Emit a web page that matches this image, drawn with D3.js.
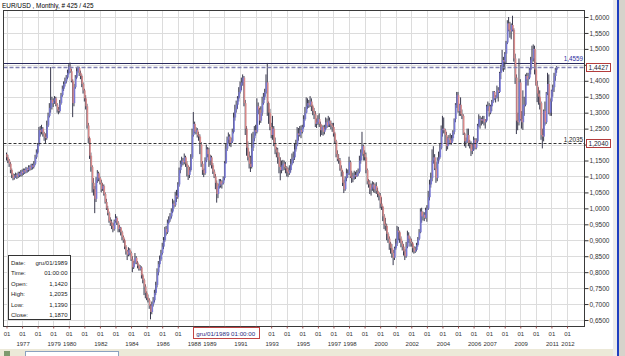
<!DOCTYPE html>
<html>
<head>
<meta charset="utf-8">
<script src="https://cdn.jsdelivr.net/npm/d3@7"></script>
<style>
  body { margin: 0; background: #fff; }
  svg { display: block; }
  text { font-family: "Liberation Sans", Arial, sans-serif; fill: #222; }
</style>
</head>
<body>
<div id="chart"></div>
<script>
// monthly bars, one row per year (1976 ... 2011)
let opens = [
  1.170,1.160,1.150,1.140,1.120,1.105,1.095,1.100,1.105,1.100,1.110,1.105,
  1.115,1.110,1.120,1.115,1.125,1.120,1.130,1.125,1.135,1.130,1.140,1.160,
  1.175,1.200,1.245,1.240,1.250,1.235,1.225,1.220,1.260,1.290,1.315,1.340,
  1.330,1.335,1.345,1.325,1.310,1.305,1.330,1.355,1.375,1.390,1.400,1.410,
  1.425,1.445,1.430,1.400,1.330,1.380,1.410,1.430,1.440,1.425,1.415,1.390,
  1.370,1.345,1.320,1.260,1.220,1.165,1.130,1.080,1.060,1.030,1.090,1.110,
  1.095,1.080,1.060,1.070,1.045,1.020,1.000,0.985,0.960,0.955,0.945,0.935,
  0.960,0.970,0.955,0.935,0.940,0.925,0.910,0.900,0.880,0.865,0.855,0.870,
  0.860,0.840,0.815,0.830,0.845,0.830,0.820,0.810,0.815,0.790,0.775,0.755,
  0.735,0.720,0.712,0.695,0.675,0.700,0.712,0.735,0.760,0.800,0.825,0.840,
  0.860,0.880,0.900,0.935,0.925,0.955,0.965,0.975,0.990,1.015,1.010,1.040,
  1.035,1.075,1.120,1.140,1.150,1.145,1.160,1.140,1.130,1.105,1.120,1.160,
  1.230,1.265,1.240,1.245,1.230,1.225,1.200,1.140,1.120,1.110,1.150,1.185,
  1.170,1.150,1.160,1.135,1.115,1.100,1.080,1.045,1.070,1.085,1.075,1.080,
  1.095,1.142,1.187,1.215,1.225,1.205,1.210,1.240,1.285,1.310,1.325,1.345,
  1.365,1.385,1.395,1.410,1.330,1.250,1.190,1.160,1.140,1.130,1.190,1.220,
  1.245,1.240,1.320,1.310,1.275,1.300,1.330,1.350,1.365,1.395,1.330,1.300,
  1.255,1.230,1.250,1.205,1.185,1.175,1.160,1.130,1.120,1.135,1.140,1.130,
  1.125,1.115,1.110,1.120,1.140,1.155,1.160,1.185,1.200,1.235,1.230,1.245,
  1.240,1.255,1.280,1.300,1.320,1.330,1.325,1.335,1.320,1.305,1.295,1.265,
  1.270,1.280,1.265,1.245,1.255,1.240,1.250,1.270,1.260,1.275,1.265,1.260,
  1.255,1.235,1.210,1.170,1.155,1.150,1.125,1.115,1.080,1.060,1.095,1.110,
  1.110,1.145,1.100,1.095,1.100,1.105,1.100,1.110,1.115,1.150,1.175,1.195,
  1.170,1.160,1.120,1.085,1.075,1.060,1.065,1.075,1.060,1.070,1.055,1.045,
  1.040,1.015,1.005,0.975,0.950,0.945,0.920,0.905,0.890,0.875,0.860,0.845,
  0.875,0.890,0.930,0.925,0.905,0.890,0.880,0.865,0.850,0.880,0.915,0.905,
  0.895,0.890,0.875,0.865,0.870,0.885,0.905,0.925,0.990,0.975,0.980,0.970,
  0.995,1.000,1.035,1.075,1.095,1.150,1.160,1.125,1.095,1.150,1.160,1.190,
  1.245,1.250,1.245,1.230,1.195,1.220,1.215,1.205,1.220,1.240,1.280,1.325,
  1.355,1.305,1.325,1.295,1.290,1.235,1.210,1.210,1.230,1.205,1.200,1.180,
  1.185,1.215,1.190,1.210,1.260,1.280,1.280,1.275,1.280,1.270,1.275,1.320,
  1.320,1.300,1.320,1.335,1.365,1.345,1.350,1.370,1.365,1.425,1.445,1.465,
  1.460,1.485,1.520,1.580,1.560,1.555,1.575,1.560,1.470,1.410,1.275,1.270,
  1.395,1.280,1.270,1.325,1.325,1.415,1.405,1.410,1.435,1.465,1.470,1.500,
  1.435,1.385,1.360,1.350,1.330,1.230,1.225,1.305,1.270,1.360,1.390,1.300,
  1.335,1.370,1.380,1.415,1.435
]

let highs = [
  1.175,1.168,1.155,1.145,1.125,1.110,1.108,1.112,1.110,1.115,1.115,1.120,
  1.122,1.125,1.125,1.130,1.128,1.135,1.135,1.140,1.140,1.148,1.168,1.185,
  1.205,1.255,1.258,1.262,1.255,1.240,1.235,1.275,1.300,1.330,1.443,1.350,
  1.345,1.352,1.350,1.330,1.318,1.340,1.362,1.385,1.398,1.410,1.418,1.435,
  1.452,1.457,1.438,1.405,1.390,1.418,1.440,1.445,1.444,1.432,1.420,1.395,
  1.375,1.355,1.328,1.268,1.225,1.175,1.135,1.095,1.070,1.098,1.120,1.115,
  1.100,1.090,1.080,1.075,1.050,1.030,1.008,0.990,0.972,0.965,0.955,0.965,
  0.982,0.975,0.960,0.948,0.942,0.930,0.915,0.905,0.885,0.870,0.878,0.875,
  0.865,0.850,0.835,0.860,0.850,0.835,0.825,0.822,0.818,0.795,0.780,0.762,
  0.740,0.730,0.718,0.700,0.708,0.722,0.745,0.770,0.812,0.835,0.852,0.870,
  0.892,0.910,0.942,0.945,0.965,0.975,0.985,1.000,1.030,1.025,1.052,1.058,
  1.082,1.128,1.150,1.162,1.158,1.172,1.165,1.148,1.135,1.130,1.170,1.250,
  1.302,1.272,1.255,1.252,1.240,1.232,1.208,1.148,1.125,1.160,1.200,1.192,
  1.190,1.168,1.165,1.142,1.122,1.108,1.088,1.078,1.092,1.092,1.088,1.100,
  1.148,1.2035,1.225,1.238,1.232,1.222,1.250,1.300,1.325,1.338,1.352,1.380,
  1.398,1.410,1.420,1.415,1.340,1.258,1.210,1.178,1.165,1.235,1.240,1.258,
  1.262,1.345,1.332,1.315,1.320,1.350,1.362,1.375,1.420,1.456,1.335,1.312,
  1.268,1.290,1.258,1.222,1.192,1.190,1.175,1.160,1.150,1.152,1.150,1.145,
  1.132,1.128,1.135,1.155,1.172,1.178,1.205,1.215,1.255,1.252,1.258,1.260,
  1.262,1.292,1.318,1.348,1.345,1.340,1.352,1.345,1.325,1.315,1.305,1.282,
  1.292,1.298,1.272,1.262,1.260,1.262,1.285,1.282,1.290,1.285,1.275,1.268,
  1.268,1.240,1.215,1.182,1.170,1.158,1.135,1.120,1.090,1.100,1.125,1.122,
  1.162,1.150,1.118,1.112,1.118,1.115,1.120,1.125,1.165,1.185,1.240,1.200,
  1.182,1.175,1.125,1.092,1.088,1.078,1.085,1.082,1.078,1.082,1.065,1.052,
  1.048,1.035,1.008,0.982,0.970,0.952,0.925,0.912,0.895,0.888,0.870,0.880,
  0.905,0.945,0.942,0.930,0.912,0.898,0.888,0.872,0.895,0.930,0.925,0.912,
  0.905,0.895,0.882,0.880,0.892,0.910,0.935,1.000,1.002,0.990,0.988,1.002,
  1.010,1.055,1.090,1.112,1.185,1.195,1.170,1.145,1.160,1.178,1.205,1.260,
  1.290,1.285,1.250,1.240,1.225,1.230,1.235,1.230,1.245,1.282,1.330,1.365,
  1.365,1.328,1.348,1.310,1.295,1.238,1.222,1.250,1.250,1.215,1.210,1.205,
  1.225,1.220,1.220,1.265,1.295,1.290,1.285,1.290,1.290,1.280,1.325,1.335,
  1.330,1.325,1.340,1.368,1.368,1.355,1.385,1.380,1.428,1.450,1.497,1.475,
  1.490,1.525,1.590,1.600,1.585,1.580,1.604,1.565,1.485,1.420,1.300,1.470,
  1.405,1.305,1.370,1.350,1.420,1.425,1.425,1.440,1.475,1.510,1.514,1.510,
  1.458,1.400,1.380,1.370,1.335,1.250,1.310,1.335,1.365,1.425,1.420,1.345,
  1.372,1.388,1.425,1.440,1.446
]

let lows = [
  1.150,1.142,1.130,1.110,1.095,1.088,1.090,1.095,1.092,1.095,1.098,1.100,
  1.100,1.105,1.108,1.110,1.112,1.115,1.118,1.120,1.122,1.125,1.135,1.155,
  1.170,1.195,1.225,1.232,1.225,1.212,1.205,1.215,1.255,1.285,1.300,1.310,
  1.318,1.328,1.320,1.300,1.295,1.300,1.325,1.350,1.368,1.382,1.392,1.405,
  1.420,1.425,1.395,1.286,1.320,1.375,1.405,1.425,1.415,1.405,1.380,1.360,
  1.335,1.310,1.250,1.205,1.155,1.115,1.050,1.040,0.985,1.020,1.080,1.085,
  1.075,1.050,1.055,1.040,1.015,0.995,0.978,0.955,0.945,0.935,0.925,0.930,
  0.955,0.948,0.925,0.925,0.915,0.900,0.892,0.872,0.855,0.838,0.850,0.852,
  0.835,0.800,0.810,0.825,0.825,0.812,0.805,0.805,0.780,0.765,0.728,0.718,
  0.712,0.705,0.685,0.652,0.668,0.692,0.705,0.728,0.752,0.790,0.815,0.835,
  0.855,0.872,0.895,0.915,0.920,0.950,0.958,0.968,0.985,1.000,1.005,1.020,
  1.030,1.068,1.110,1.130,1.135,1.138,1.130,1.100,1.089,1.095,1.115,1.155,
  1.225,1.235,1.232,1.222,1.212,1.170,1.130,1.105,1.098,1.105,1.145,1.160,
  1.130,1.135,1.125,1.108,1.095,1.060,1.018,1.032,1.062,1.065,1.062,1.075,
  1.088,1.139,1.180,1.205,1.195,1.192,1.205,1.235,1.275,1.300,1.312,1.335,
  1.360,1.370,1.385,1.320,1.230,1.165,1.150,1.125,1.114,1.125,1.180,1.210,
  1.228,1.235,1.295,1.262,1.268,1.290,1.325,1.340,1.360,1.290,1.265,1.245,
  1.220,1.215,1.195,1.170,1.160,1.140,1.110,1.088,1.110,1.118,1.120,1.110,
  1.100,1.098,1.105,1.112,1.135,1.142,1.152,1.178,1.195,1.212,1.225,1.220,
  1.235,1.250,1.275,1.298,1.312,1.315,1.318,1.305,1.292,1.280,1.255,1.252,
  1.262,1.255,1.225,1.230,1.228,1.232,1.245,1.252,1.255,1.255,1.248,1.240,
  1.225,1.202,1.160,1.148,1.140,1.118,1.100,1.070,1.048,1.055,1.085,1.095,
  1.105,1.095,1.080,1.082,1.090,1.092,1.098,1.102,1.110,1.140,1.165,1.150,
  1.150,1.110,1.075,1.065,1.045,1.040,1.055,1.050,1.048,1.045,1.035,1.025,
  1.000,0.995,0.960,0.935,0.930,0.900,0.892,0.870,0.858,0.845,0.822,0.838,
  0.870,0.882,0.900,0.892,0.878,0.868,0.852,0.838,0.845,0.875,0.892,0.880,
  0.880,0.862,0.858,0.860,0.865,0.880,0.900,0.922,0.955,0.962,0.960,0.968,
  0.958,0.995,1.025,1.065,1.085,1.140,1.120,1.080,1.085,1.140,1.155,1.185,
  1.225,1.235,1.205,1.180,1.185,1.200,1.200,1.200,1.210,1.232,1.270,1.315,
  1.300,1.290,1.290,1.280,1.230,1.195,1.190,1.205,1.195,1.188,1.164,1.170,
  1.180,1.185,1.185,1.205,1.255,1.250,1.260,1.265,1.260,1.250,1.270,1.305,
  1.288,1.295,1.305,1.330,1.340,1.332,1.345,1.335,1.362,1.405,1.432,1.428,
  1.435,1.455,1.515,1.555,1.535,1.530,1.555,1.460,1.390,1.233,1.245,1.260,
  1.275,1.250,1.246,1.290,1.320,1.385,1.385,1.405,1.420,1.455,1.460,1.420,
  1.385,1.333,1.325,1.310,1.215,1.188,1.210,1.260,1.265,1.355,1.295,1.290,
  1.290,1.350,1.365,1.400,1.425
]

let closes = [
  1.160,1.150,1.140,1.120,1.105,1.095,1.100,1.105,1.100,1.110,1.105,1.115,
  1.110,1.120,1.115,1.125,1.120,1.130,1.125,1.135,1.130,1.140,1.160,1.175,
  1.200,1.245,1.240,1.250,1.235,1.225,1.220,1.260,1.290,1.315,1.340,1.330,
  1.335,1.345,1.325,1.310,1.305,1.330,1.355,1.375,1.390,1.400,1.410,1.425,
  1.445,1.430,1.400,1.330,1.380,1.410,1.430,1.440,1.425,1.415,1.390,1.370,
  1.345,1.320,1.260,1.220,1.165,1.130,1.080,1.060,1.030,1.090,1.110,1.095,
  1.080,1.060,1.070,1.045,1.020,1.000,0.985,0.960,0.955,0.945,0.935,0.960,
  0.970,0.955,0.935,0.940,0.925,0.910,0.900,0.880,0.865,0.855,0.870,0.860,
  0.840,0.815,0.830,0.845,0.830,0.820,0.810,0.815,0.790,0.775,0.755,0.735,
  0.720,0.712,0.695,0.675,0.700,0.712,0.735,0.760,0.800,0.825,0.840,0.860,
  0.880,0.900,0.935,0.925,0.955,0.965,0.975,0.990,1.015,1.010,1.040,1.035,
  1.075,1.120,1.140,1.150,1.145,1.160,1.140,1.130,1.105,1.120,1.160,1.230,
  1.265,1.240,1.245,1.230,1.225,1.200,1.140,1.120,1.110,1.150,1.185,1.170,
  1.150,1.160,1.135,1.115,1.100,1.080,1.045,1.070,1.085,1.075,1.080,1.095,
  1.142,1.187,1.215,1.225,1.205,1.210,1.240,1.285,1.310,1.325,1.345,1.365,
  1.385,1.395,1.410,1.330,1.250,1.190,1.160,1.140,1.130,1.190,1.220,1.245,
  1.240,1.320,1.310,1.275,1.300,1.330,1.350,1.365,1.395,1.330,1.300,1.255,
  1.230,1.250,1.205,1.185,1.175,1.160,1.130,1.120,1.135,1.140,1.130,1.125,
  1.115,1.110,1.120,1.140,1.155,1.160,1.185,1.200,1.235,1.230,1.245,1.240,
  1.255,1.280,1.300,1.320,1.330,1.325,1.335,1.320,1.305,1.295,1.265,1.270,
  1.280,1.265,1.245,1.255,1.240,1.250,1.270,1.260,1.275,1.265,1.260,1.255,
  1.235,1.210,1.170,1.155,1.150,1.125,1.115,1.080,1.060,1.095,1.110,1.110,
  1.145,1.100,1.095,1.100,1.105,1.100,1.110,1.115,1.150,1.175,1.195,1.170,
  1.160,1.120,1.085,1.075,1.060,1.065,1.075,1.060,1.070,1.055,1.045,1.040,
  1.015,1.005,0.975,0.950,0.945,0.920,0.905,0.890,0.875,0.860,0.845,0.875,
  0.890,0.930,0.925,0.905,0.890,0.880,0.865,0.850,0.880,0.915,0.905,0.895,
  0.890,0.875,0.865,0.870,0.885,0.905,0.925,0.990,0.975,0.980,0.970,0.995,
  1.000,1.035,1.075,1.095,1.150,1.160,1.125,1.095,1.150,1.160,1.190,1.245,
  1.250,1.245,1.230,1.195,1.220,1.215,1.205,1.220,1.240,1.280,1.325,1.355,
  1.305,1.325,1.295,1.290,1.235,1.210,1.210,1.230,1.205,1.200,1.180,1.185,
  1.215,1.190,1.210,1.260,1.280,1.280,1.275,1.280,1.270,1.275,1.320,1.320,
  1.300,1.320,1.335,1.365,1.345,1.350,1.370,1.365,1.425,1.445,1.465,1.460,
  1.485,1.520,1.580,1.560,1.555,1.575,1.560,1.470,1.410,1.275,1.270,1.395,
  1.280,1.270,1.325,1.325,1.415,1.405,1.410,1.435,1.465,1.470,1.500,1.435,
  1.385,1.360,1.350,1.330,1.230,1.225,1.305,1.270,1.360,1.390,1.300,1.335,
  1.370,1.380,1.415,1.435,1.4427
]

let priceTicks = [0.65, 0.70, 0.75, 0.80, 0.85, 0.90, 0.95, 1.00, 1.05, 1.10,
  1.15, 1.20, 1.25, 1.30, 1.35, 1.40, 1.45, 1.50, 1.55, 1.60]

// which yearly "01" tick carries a year under it
let yearTickIndex = [1, 3, 4, 6, 8, 10, 12, 13, 15, 17, 19, 21, 22, 24, 26, 28, 30, 31, 33, 35, 36]
let yearLabels = ["1977", "1979", "1980", "1982", "1984", "1986", "1988", "1989", "1991", "1993",
  "1995", "1997", "1998", "2000", "2002", "2004", "2006", "2007", "2009", "2011", "2012"]

let infoLabels = ["Date:", "Time:", "Open:", "High:", "Low:", "Close:"]
let infoValues = ["gru/01/1989", "01:00:00", "1,1420", "1,2035", "1,1390", "1,1870"]

let userLevel = 1.4559
let lastPrice = 1.4427
let crossPrice = 1.2035
let crossAxisPrice = 1.2040
let crossBar = 169
let crossDate = "gru/01/1989 01:00:00"

let fmt = d => d.toFixed(4).replace(".", ",")

let svg = d3.select("#chart")
  .append("svg")
  .attr("width", 625)
  .attr("height", 356)

let frame = {left: 3.5, top: 10.5, right: 584.5, bottom: 326.5}

//X axis: one bar per month
let x = d3.scaleLinear()
  .domain([0, closes.length - 1])
  .range([6.5, 556.6])

//Y axis
let y = d3.scaleLinear()
  .domain([0.65, 1.60])
  .range([320, 17])

let tickBars = d3.range(0, 433, 12)
let cx = x(crossBar)
let priceBoxes = [lastPrice, crossAxisPrice]

// window bits round the chart
svg.append("rect").attr("x", 0).attr("y", 349).attr("width", 617).attr("height", 7).attr("fill", "#ece9d8")
svg.append("rect").attr("x", 25.5).attr("y", 351.5).attr("width", 93).attr("height", 6).attr("fill", "#fff").attr("stroke", "#8aa2c0")
svg.append("rect").attr("x", 4).attr("y", 351).attr("width", 6).attr("height", 5).attr("fill", "#7d9a6e")
svg.append("rect").attr("x", 613).attr("y", 0).attr("width", 4).attr("height", 356).attr("fill", "#ececec")
svg.append("rect").attr("x", 617).attr("y", 0).attr("width", 2).attr("height", 356).attr("fill", "#1f3fc0")
svg.append("rect").attr("x", 619).attr("y", 0).attr("width", 6).attr("height", 356).attr("fill", "#d6d3cb")

svg.append("text")
  .attr("x", 2)
  .attr("y", 7.5)
  .style("font-size", "6.4px")
  .style("fill", "#000")
  .text("EUR/USD , Monthly, # 425 / 425")

// grid
let grid = svg.append("g").attr("shape-rendering", "crispEdges")

grid.selectAll(".vgrid")
  .data(tickBars)
  .enter()
  .append("line")
  .attr("x1", d => Math.round(x(d)) + 0.5)
  .attr("x2", d => Math.round(x(d)) + 0.5)
  .attr("y1", frame.top)
  .attr("y2", frame.bottom)
  .attr("stroke", "#dcdcdc")

grid.selectAll(".hgrid")
  .data(priceTicks)
  .enter()
  .append("line")
  .attr("x1", frame.left)
  .attr("x2", frame.right)
  .attr("y1", d => Math.round(y(d)) + 0.5)
  .attr("y2", d => Math.round(y(d)) + 0.5)
  .attr("stroke", "#dcdcdc")

// horizontal user line (solid) drawn under the bars
svg.append("line")
  .attr("x1", frame.left)
  .attr("x2", frame.right)
  .attr("y1", Math.round(y(userLevel)) + 0.5)
  .attr("y2", Math.round(y(userLevel)) + 0.5)
  .attr("stroke", "#2b2b5e")
  .attr("shape-rendering", "crispEdges")

// bars
let bars = svg.append("g")

bars.selectAll(".wick")
  .data(closes)
  .enter()
  .append("line")
  .attr("x1", (d, i) => x(i))
  .attr("x2", (d, i) => x(i))
  .attr("y1", (d, i) => y(highs[i]))
  .attr("y2", (d, i) => y(lows[i]))
  .attr("stroke", "#3a3a4e")
  .attr("stroke-width", 1)

bars.selectAll(".body")
  .data(closes)
  .enter()
  .append("rect")
  .attr("x", (d, i) => x(i) - 0.2)
  .attr("width", 1.5)
  .attr("y", (d, i) => y(Math.max(opens[i], d)))
  .attr("height", (d, i) => Math.max(1, Math.abs(y(opens[i]) - y(d))))
  .attr("fill", (d, i) => d >= opens[i] ? "#7a7ad6" : "#d88a8a")

// current price and cross hair lines
svg.append("line")
  .attr("x1", frame.left)
  .attr("x2", frame.right)
  .attr("y1", Math.round(y(lastPrice)) + 0.5)
  .attr("y2", Math.round(y(lastPrice)) + 0.5)
  .attr("stroke", "#8282b4")
  .attr("stroke-width", 1.3)
  .attr("stroke-dasharray", "4,2")

svg.append("line")
  .attr("x1", frame.left)
  .attr("x2", frame.right)
  .attr("y1", Math.round(y(crossPrice)) + 0.5)
  .attr("y2", Math.round(y(crossPrice)) + 0.5)
  .attr("stroke", "#333")
  .attr("stroke-dasharray", "3,2")

svg.append("text")
  .attr("x", 583)
  .attr("y", y(userLevel) - 1.5)
  .attr("text-anchor", "end")
  .style("font-size", "6.3px")
  .style("fill", "#2c2ca0")
  .text(fmt(userLevel))

svg.append("text")
  .attr("x", 583)
  .attr("y", y(crossPrice) - 1.5)
  .attr("text-anchor", "end")
  .style("font-size", "6.3px")
  .style("fill", "#222")
  .text(fmt(crossPrice))

// frame
svg.append("rect")
  .attr("x", frame.left)
  .attr("y", frame.top)
  .attr("width", frame.right - frame.left)
  .attr("height", frame.bottom - frame.top)
  .attr("fill", "none")
  .attr("stroke", "#3a3a3a")
  .attr("shape-rendering", "crispEdges")

// right price axis; labels sitting under a price box stay hidden
let y_axis = svg.append("g")
  .attr("transform", "translate(" + frame.right + ",0)")
  .call(d3.axisRight(y).tickValues(priceTicks).tickSize(4).tickPadding(1).tickFormat(fmt))

y_axis.select(".domain").remove()
y_axis.selectAll("line").attr("stroke", "#333")
y_axis.selectAll("text")
  .style("font-size", "6.5px")
  .style("fill", "#333")
  .attr("font-family", null)
y_axis.selectAll(".tick")
  .filter(d => priceBoxes.some(p => Math.abs(y(p) - y(d)) < 8))
  .select("text")
  .remove()

// bottom time axis; labels under the date box are hidden as in the app
let x_axis = svg.append("g")
  .attr("transform", "translate(0," + frame.bottom + ")")
  .call(d3.axisBottom(x).tickValues(tickBars).tickSize(2).tickPadding(3).tickFormat(() => "01"))

x_axis.select(".domain").remove()
x_axis.selectAll("line").attr("stroke", "#a05050")
x_axis.selectAll("text")
  .style("font-size", "6px")
  .style("fill", "#333")
  .attr("font-family", null)
x_axis.selectAll(".tick")
  .filter(d => Math.abs(x(d) - cx) < 36)
  .select("text")
  .remove()

svg.selectAll(".year_label")
  .data(yearTickIndex)
  .enter()
  .append("text")
  .attr("class", "year_label")
  .attr("x", d => x(d * 12) + 1)
  .attr("y", 345.5)
  .attr("text-anchor", "middle")
  .style("font-size", "6px")
  .style("fill", "#333")
  .text((d, i) => yearLabels[i])

// price boxes on the axis
let boxes = svg.selectAll(".price_box")
  .data(priceBoxes)
  .enter()
  .append("g")
  .attr("transform", d => "translate(586.5," + (Math.round(y(d)) - 3.5) + ")")

boxes.append("rect")
  .attr("width", 24)
  .attr("height", 8)
  .attr("fill", "#fff")
  .attr("stroke", "#b33c3c")

boxes.append("text")
  .attr("x", 12)
  .attr("y", 6.3)
  .attr("text-anchor", "middle")
  .style("font-size", "6.5px")
  .style("fill", "#223")
  .text(d => fmt(d))

// cross hair date label
svg.append("rect")
  .attr("x", Math.round(cx - 33) + 0.5)
  .attr("y", 327.5)
  .attr("width", 66)
  .attr("height", 11)
  .attr("fill", "#fff")
  .attr("stroke", "#c04444")

svg.append("text")
  .attr("x", cx)
  .attr("y", 335.6)
  .attr("text-anchor", "middle")
  .style("font-size", "6.2px")
  .style("fill", "#2a2a80")
  .text(crossDate)

// data window
let info = svg.append("g").attr("transform", "translate(8.5,255.5)")

info.append("rect")
  .attr("width", 62)
  .attr("height", 64)
  .attr("fill", "#fff")
  .attr("stroke", "#333")

info.selectAll(".info_label")
  .data(infoLabels)
  .enter()
  .append("text")
  .attr("x", 2.5)
  .attr("y", (d, i) => 9 + i * 10.5)
  .style("font-size", "6px")
  .text(d => d)

info.selectAll(".info_value")
  .data(infoValues)
  .enter()
  .append("text")
  .attr("x", 59)
  .attr("y", (d, i) => 9 + i * 10.5)
  .attr("text-anchor", "end")
  .style("font-size", "6px")
  .text(d => d)
</script>
</body>
</html>
